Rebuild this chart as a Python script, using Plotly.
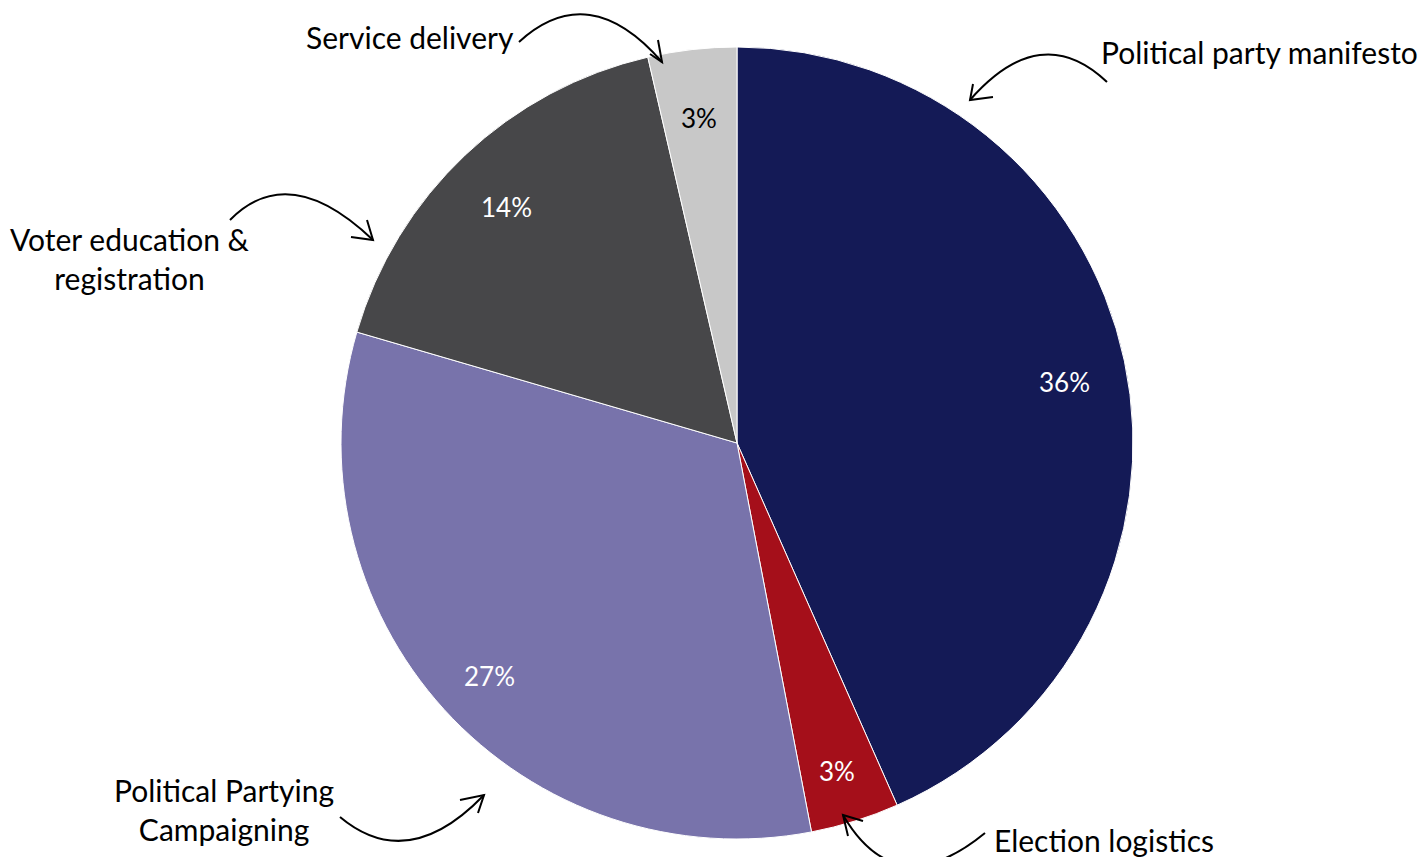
import math
import plotly.graph_objects as go

categories = ["Political party manifesto", "Election logistics", "Political Partying Campaigning",
              "Voter education & registration", "Service delivery"]
values = [36, 3, 27, 14, 3]
colors = ["#141A56", "#A50F1A", "#7873AB", "#474749", "#C8C8C8"]
text_colors = ["white", "white", "white", "white", "black"]

W, H = 1423, 857
FONT = "Lato, 'Open Sans', sans-serif"
CX, CY, R = 737, 443, 396  # pie centre / radius in page pixels

def fx(x):
    return x / W

def fy(y):
    return 1 - y / H

def px(x, y):
    return f"{fx(x):.5f},{fy(y):.5f}"

dom = dict(x=[fx(CX - 420), fx(CX + 420)], y=[fy(CY + R), fy(CY - R)])

fig = go.Figure(go.Pie(
    labels=categories, values=values, sort=False, direction="clockwise", rotation=0,
    marker=dict(colors=colors, line=dict(color="white", width=1)),
    textinfo="none", domain=dom, hoverinfo="label+value", showlegend=False,
))

annotations = []
# value labels on each slice, at 0.846 R along the slice's mid angle
total = sum(values)
cum = 0
for v, col in zip(values, text_colors):
    theta = 2 * math.pi * (cum + v / 2) / total
    cum += v
    lx = CX + 0.846 * R * math.sin(theta)
    ly = CY - 0.846 * R * math.cos(theta) + 8
    annotations.append(dict(text=f"{v}%", x=fx(lx), y=fy(ly), xref="paper", yref="paper",
                            xanchor="center", yanchor="middle", showarrow=False,
                            font=dict(family=FONT, size=26, color=col)))

# curved arrows: (start, control, tip, barb1, barb2)
arrows = [
    ((519, 42), (589, -22), (662, 62), (658, 40), (650, 54)),
    ((1107, 82), (1041, 19), (970, 100), (993, 97), (973, 84)),
    ((230, 220), (289, 160), (373, 240), (367, 220), (351, 237)),
    ((340, 817), (408, 874), (484, 795), (460, 800), (478, 813)),
    ((985, 833), (896, 906), (843, 815), (863, 821), (848, 836)),
]
shapes = []
for s, c, t, b1, b2 in arrows:
    shapes.append(dict(type="path", xref="paper", yref="paper",
                       path=f"M {px(*s)} Q {px(*c)} {px(*t)}",
                       line=dict(color="black", width=2)))
    shapes.append(dict(type="path", xref="paper", yref="paper",
                       path=f"M {px(*b1)} L {px(*t)} L {px(*b2)}",
                       line=dict(color="black", width=2)))

labels = [
    ("Service delivery", 516, 37, "right"),
    ("Political party manifesto", 1099, 52, "left"),
    ("Voter education &<br>registration", 130, 258, "center"),
    ("Political Partying<br>Campaigning", 224, 809, "center"),
    ("Election logistics", 992, 840, "left"),
]
for txt, x, y, anchor in labels:
    annotations.append(dict(text=txt, x=fx(x), y=fy(y), xref="paper", yref="paper",
                            xanchor=anchor, yanchor="middle", align="center", showarrow=False,
                            font=dict(family=FONT, size=30, color="black")))

fig.update_layout(
    width=W, height=H, margin=dict(l=0, r=0, t=0, b=0),
    paper_bgcolor="white", plot_bgcolor="white",
    shapes=shapes, annotations=annotations,
)
fig.write_html("out.html", config={"displayModeBar": False},
               post_script="document.body.style.margin='0';document.body.style.overflow='hidden';")
